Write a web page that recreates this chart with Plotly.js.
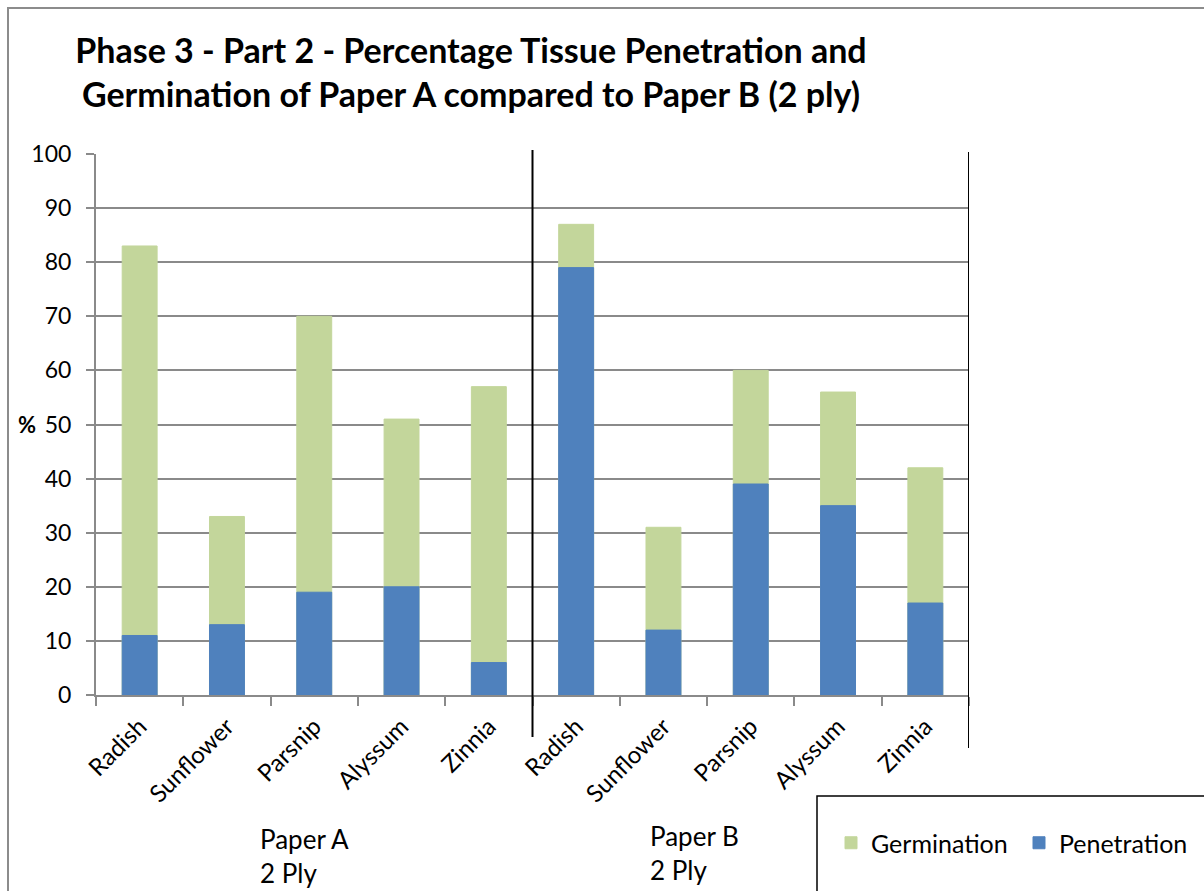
<!DOCTYPE html>
<html>
<head>
<meta charset="utf-8">
<script src="https://cdn.plot.ly/plotly-3.0.1.min.js"></script>
<style>
  html, body { margin: 0; padding: 0; background: #ffffff; }
  #chart { width: 1204px; height: 891px; }
</style>
</head>
<body>
<div id="chart"></div>
<script>
// Seed trial results for the two papers (2 ply), in percent
const seeds = ['Radish', 'Sunflower', 'Parsnip', 'Alyssum', 'Zinnia',
               'Radish', 'Sunflower', 'Parsnip', 'Alyssum', 'Zinnia'];
const germination = [83, 33, 70, 51, 57, 87, 31, 60, 56, 42];
const penetration = [11, 13, 19, 20, 6, 79, 12, 39, 35, 17];
const groups = ['Paper A<br>2 Ply', 'Paper B<br>2 Ply'];

const FONT = 'Lato, "Open Sans", sans-serif';
const GREEN = '#c3d69b';
const BLUE = '#4f81bd';
const GRID = '#8a8a8a';

// plot area size in px, used to place paper-referenced decorations
const PW = 873, PH = 541, PL = 96, PB = 695;
const px = v => (v - PL) / PW;
const py = v => (PB - v) / PH;

const pos = seeds.map((_, i) => i);

const traces = [
  {
    type: 'bar', name: 'Germination', x: pos, y: germination,
    width: 0.4, marker: { color: GREEN, line: { color: GREEN, width: 1 } },
    hoverinfo: 'y'
  },
  {
    type: 'bar', name: 'Penetration', x: pos, y: penetration,
    width: 0.4, marker: { color: BLUE, line: { color: BLUE, width: 1 } },
    hoverinfo: 'y'
  }
];

const layout = {
  width: 1204, height: 891,
  margin: { l: 96, r: 235, t: 154, b: 196, autoexpand: false },
  paper_bgcolor: '#ffffff', plot_bgcolor: '#ffffff',
  font: { family: FONT, color: '#000000', size: 22 },
  barmode: 'overlay',
  bargap: 0,
  title: {
    text: '<b>Phase 3 - Part 2 - Percentage Tissue Penetration and<br>Germination of Paper A compared to Paper B (2 ply)</b>',
    font: { family: FONT, size: 34, color: '#000000' },
    x: 471 / 1204, xref: 'container', xanchor: 'center',
    y: 1 - 63 / 891, yref: 'container', yanchor: 'middle'
  },
  showlegend: true,
  legend: {
    orientation: 'h', x: px(831), xref: 'paper',
    y: py(843), yanchor: 'middle', xanchor: 'left',
    font: { family: FONT, size: 25 }, bgcolor: 'rgba(0,0,0,0)',
    traceorder: 'normal', itemwidth: 30, entrywidth: 143
  },
  xaxis: {
    range: [-0.5, 9.5], fixedrange: true,
    tickmode: 'array', tickvals: pos, ticktext: seeds,
    tickangle: -45, ticks: '', tickfont: { family: FONT, size: 24 },
    ticklabelstandoff: 6,
    showgrid: false, zeroline: false,
    showline: true, linecolor: GRID, linewidth: 2,
    minor: { tickmode: 'linear', tick0: -0.5, dtick: 1, ticks: 'outside',
             ticklen: 9, tickcolor: GRID, tickwidth: 2, showgrid: false }
  },
  yaxis: {
    range: [0, 100], fixedrange: true, dtick: 10,
    ticks: 'outside', ticklen: 8, tickcolor: GRID, tickwidth: 2,
    tickfont: { family: FONT, size: 23 }, ticklabelstandoff: 10,
    showgrid: true, gridcolor: GRID, gridwidth: 2,
    zeroline: false, showline: true, linecolor: GRID, linewidth: 2
  },
  shapes: [
    // outer chart frame
    { type: 'rect', xref: 'paper', yref: 'paper',
      x0: px(8), x1: 1.5, y0: -0.5, y1: py(8),
      line: { color: '#8c8c8c', width: 2 }, layer: 'below' },
    // divider between the two papers and closing line on the right
    { type: 'line', xref: 'x', yref: 'paper', x0: 4.5, x1: 4.5,
      y0: py(737), y1: py(150), line: { color: '#000000', width: 2 } },
    { type: 'line', xref: 'x', yref: 'paper', x0: 9.5, x1: 9.5,
      y0: py(748), y1: py(152), line: { color: '#000000', width: 2 } },
    // legend box
    { type: 'rect', xref: 'paper', yref: 'paper',
      x0: px(817), x1: 1.5, y0: -0.5, y1: py(796),
      line: { color: '#000000', width: 1.5 } }
  ],
  annotations: [
    { text: '<b>%</b>', xref: 'paper', yref: 'y', x: px(16), y: 50,
      xanchor: 'left', yanchor: 'middle', showarrow: false,
      font: { family: FONT, size: 22 } },
    { text: groups[0], xref: 'x', yref: 'paper', x: 1.356, y: py(821),
      xanchor: 'left', yanchor: 'top', align: 'left', showarrow: false,
      font: { family: FONT, size: 26 } },
    { text: groups[1], xref: 'x', yref: 'paper', x: 5.82, y: py(818),
      xanchor: 'left', yanchor: 'top', align: 'left', showarrow: false,
      font: { family: FONT, size: 26 } }
  ]
};

Plotly.newPlot('chart', traces, layout, { displayModeBar: false, staticPlot: true });
</script>
</body>
</html>
